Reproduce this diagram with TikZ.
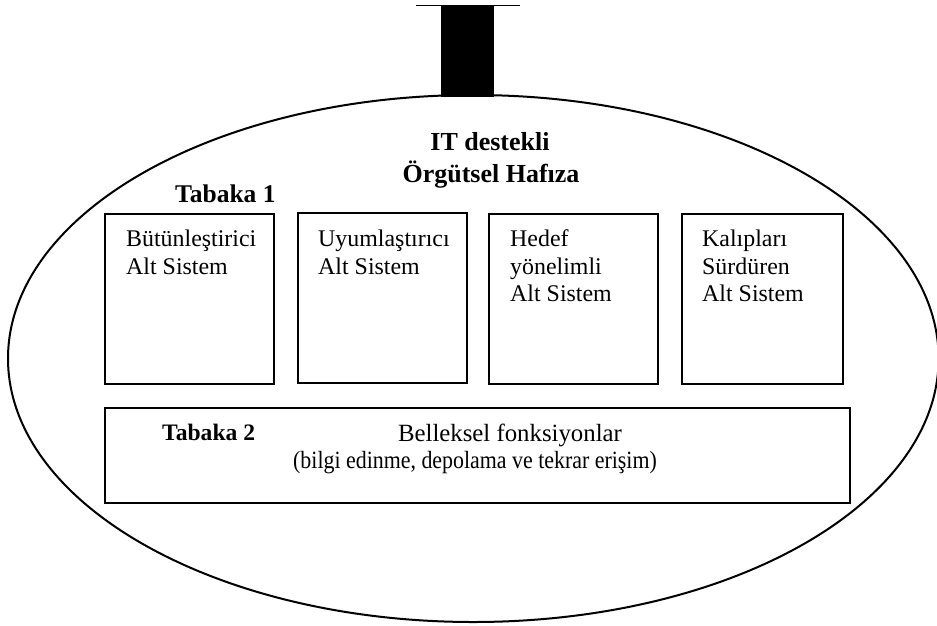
\documentclass[tikz,border=0pt]{standalone}
\usepackage{fontspec}
\setmainfont{Liberation Serif}
\begin{document}
\begin{tikzpicture}[x=1pt,y=-1pt,
    sysbox/.style={draw, line width=1.6pt, anchor=north west, inner sep=0pt, minimum height=170pt},
    systext/.style={anchor=base west, align=left, inner sep=0pt, font=\fontsize{23.9}{27.5}\selectfont},
    bigtitle/.style={anchor=base, inner sep=0pt, font=\fontsize{26}{31}\selectfont\bfseries},
    layertitle/.style={anchor=base west, inner sep=0pt, font=\fontsize{25.5}{30}\selectfont\bfseries}]
    \useasboundingbox (0,0) rectangle (937,625);
    % hanger and memory
    \draw [line width=0.8pt] (416,5) -- (520,5);
    \fill (441,5) rectangle (494,97);
    \draw [line width=2pt] (473.3,358.5) ellipse [x radius=465.3pt, y radius=263.5pt];
    \node [bigtitle] (ittitle) at (490,150.5) {IT destekli};
    \node [bigtitle] (orgtitle) at (491,182.5) {Örgütsel Hafıza};
    % layer 1 (base = last line)
    \node [layertitle] (layer1) at (175,202.5) {Tabaka 1};
    \node [sysbox, minimum width=169pt] (integ) at (104,213) {};
    \node [sysbox, minimum width=169pt] (adapt) at (297,212) {};
    \node [sysbox, minimum width=169pt] (goal) at (488,213) {};
    \node [sysbox, minimum width=161pt] (pattern) at (681,213) {};
    \node [systext] (integtxt) at (126,274) {Bütünleştirici\\Alt Sistem};
    \node [systext] (adapttxt) at (318,274) {Uyumlaştırıcı\\Alt Sistem};
    \node [systext] (goaltxt) at (510,301.5) {Hedef\\yönelimli\\Alt Sistem};
    \node [systext] (patterntxt) at (702,301.5) {Kalıpları\\Sürdüren\\Alt Sistem};
    % layer 2
    \node [sysbox, minimum width=745pt, minimum height=95pt] (memfunc) at (104,407) {};
    \node [layertitle, font=\fontsize{23.6}{28}\selectfont\bfseries] (layer2) at (162,440) {Tabaka 2};
    \node [systext, anchor=base, font=\fontsize{24.8}{29}\selectfont] (functxt) at (510,441) {Belleksel fonksiyonlar};
    \node [systext, anchor=base, font=\fontsize{24.8}{29}\selectfont] (funcsub) at (475,468)
        {\scalebox{0.883}[1]{(bilgi edinme, depolama ve tekrar erişim)}};
\end{tikzpicture}
\end{document}
